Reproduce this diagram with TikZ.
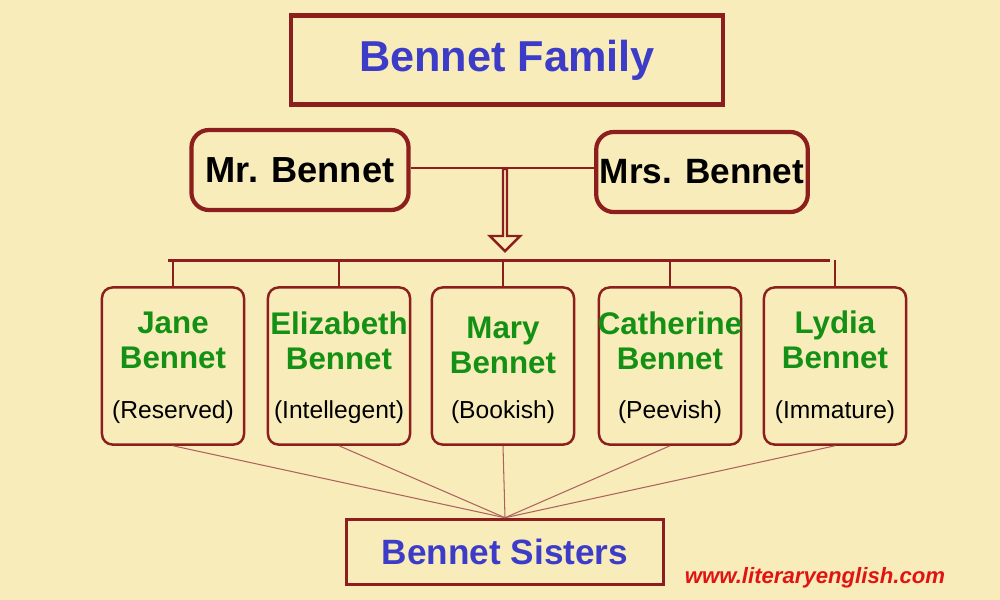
\documentclass[tikz,border=0pt]{standalone}
\usepackage{fontspec}
\setmainfont{Liberation Sans}
\usetikzlibrary{positioning, calc, shapes.arrows}
\definecolor{paper}{RGB}{248,237,186}
\definecolor{boxline}{RGB}{140,30,30}
\definecolor{titleblue}{RGB}{60,60,200}
\definecolor{kidgreen}{RGB}{20,145,20}
\definecolor{urlred}{RGB}{225,20,20}
\tikzset{
  parentbox/.style={draw=boxline, line width=1.2pt, rounded corners=5pt, minimum width=2.17cm, minimum height=0.8cm, inner xsep=1pt, font=\bfseries\fontsize{10.3}{11}\selectfont},
  kidbox/.style={draw=boxline, line width=0.7pt, rounded corners=3pt, minimum width=1.42cm, minimum height=1.57cm},
  kidname/.style={text=kidgreen, font=\bfseries\fontsize{8.9}{10}\selectfont, align=center},
  kidtrait/.style={font=\fontsize{7}{8}\selectfont},
  link/.style={draw=boxline, line width=0.8pt},
  thinlink/.style={draw=boxline!70, line width=0.3pt}
}
\begin{document}
\begin{tikzpicture}[x=0.01cm, y=-0.01cm]
  \fill[paper] (0,0) rectangle (1000,600);
  \useasboundingbox (0,0) rectangle (1000,600);

  % top
  \node[draw=boxline, line width=1.2pt, minimum width=4.31cm, minimum height=0.89cm,
        text=titleblue, font=\bfseries\fontsize{12.3}{13}\selectfont] (family) at (507,60) {Bennet Family};
  \node[parentbox] (mr) at (300,170) {Mr. Bennet};
  \node[parentbox, minimum width=2.11cm, font=\bfseries\fontsize{10}{11}\selectfont] (mrs) at (702,172) {Mrs. Bennet};
  \draw[link] (mr.east |- 0,168) -- (mrs.west |- 0,168);
  \node[single arrow, shape border rotate=270, draw=boxline, line width=0.7pt, fill=paper,
        minimum width=0.3cm, single arrow head extend=0.08cm, minimum height=0.82cm,
        inner sep=0pt] (down) at (505,209) {};

  % daughters
  \foreach \x/\y/\nm/\name/\trait in {173/340/jane/Jane\\Bennet/(Reserved),
      339/341/eliz/Elizabeth\\Bennet/(Intellegent),
      503/345/mary/Mary\\Bennet/(Bookish),
      670/341/cath/Catherine\\Bennet/(Peevish),
      835/340/lydia/Lydia\\Bennet/(Immature)} {
    \node[kidbox] (\nm) at (\x,366) {};
    \node[kidname] (\nm-n) at (\x,\y) {\name};
    \node[kidtrait] (\nm-t) at (\x,412) {\trait};
    \draw[link] (\nm.north) -- ++(0,-26);
  }
  \draw[link] ($(jane.north)+(-5,-26)$) -- ($(lydia.north)+(-5,-26)$);

  % sisters
  \node[draw=boxline, line width=1pt, minimum width=3.17cm, minimum height=0.65cm,
        text=titleblue, font=\bfseries\fontsize{10}{11}\selectfont] (sisters) at (505,552) {Bennet Sisters};
  \foreach \nm in {jane, eliz, mary, cath, lydia}
    \draw[thinlink] (\nm.south) -- (sisters.north);

  \node[text=urlred, font=\bfseries\itshape\fontsize{6.3}{7}\selectfont] (url) at (815,578) {www.literaryenglish.com};
\end{tikzpicture}
\end{document}
